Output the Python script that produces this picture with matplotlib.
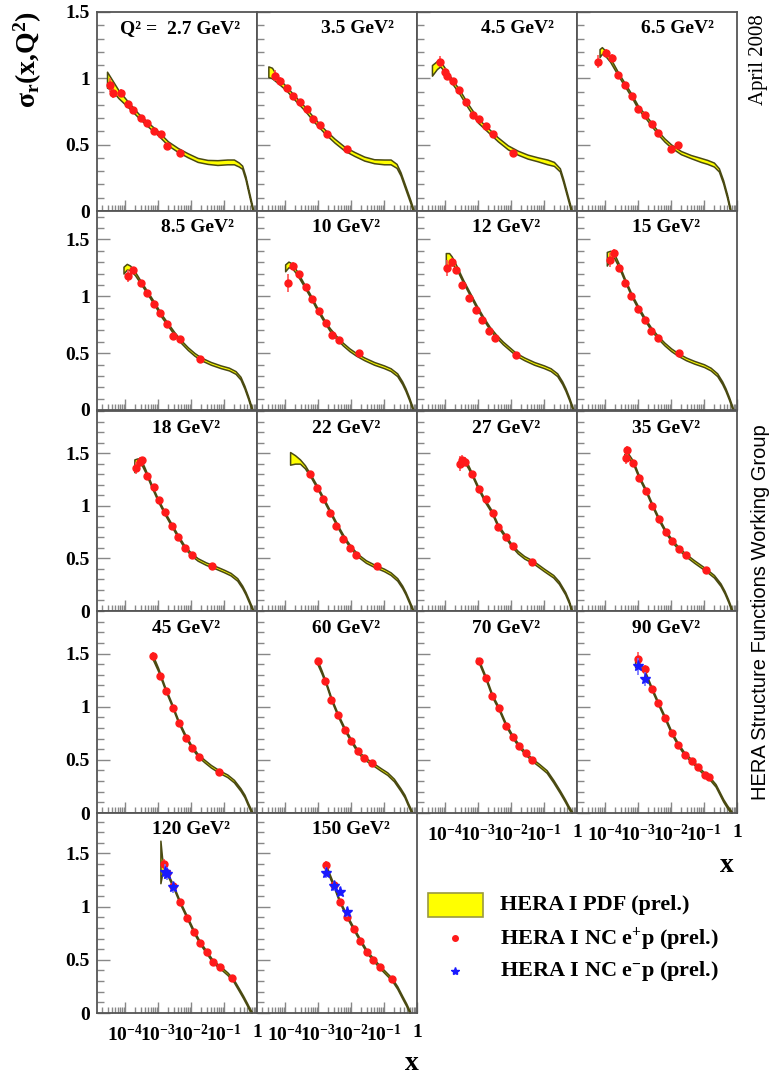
import matplotlib.pyplot as plt
from matplotlib.patches import Rectangle
from matplotlib.ticker import MultipleLocator, LogLocator, NullFormatter
import numpy as np

plt.rcParams['font.family'] = 'Liberation Serif'
plt.rcParams['font.weight'] = 'bold'
plt.rcParams['mathtext.fontset'] = 'custom'
plt.rcParams['mathtext.rm'] = 'Liberation Serif:bold'
plt.rcParams['mathtext.it'] = 'Liberation Serif:bold'
plt.rcParams['mathtext.bf'] = 'Liberation Serif:bold'
plt.rcParams['mathtext.default'] = 'rm'

# Q^2 bins (GeV^2)
q2_labels = ['2.7', '3.5', '4.5', '6.5', '8.5', '10', '12', '15', '18',
             '22', '27', '35', '45', '60', '70', '90', '120', '150']

# HERA I PDF band: log10(x), central value, half width
pdf_lgx = [
    [-4.55, -4.4, -4.2, -3.9, -3.6, -3.3, -3.0, -2.7, -2.4, -2.1, -1.8, -1.5, -1.2, -0.9, -0.7, -0.55, -0.45, -0.35, -0.25, -0.12],
    [-4.51, -4.4, -4.2, -3.95, -3.7, -3.4, -3.1, -2.8, -2.5, -2.2, -1.9, -1.6, -1.3, -1.0, -0.8, -0.62, -0.5, -0.4, -0.3, -0.2, -0.11],
    [-4.40, -4.25, -4.15, -4.0, -3.8, -3.57, -3.3, -3.0, -2.7, -2.4, -2.1, -1.8, -1.5, -1.2, -0.9, -0.7, -0.52, -0.42, -0.3, -0.17],
    [-4.17, -4.1, -4.0, -3.85, -3.6, -3.4, -3.2, -3.0, -2.8, -2.6, -2.4, -2.2, -2.0, -1.7, -1.4, -1.1, -0.9, -0.7, -0.55, -0.42, -0.3, -0.2],
    [-4.05, -3.95, -3.85, -3.7, -3.5, -3.3, -3.1, -2.9, -2.7, -2.5, -2.3, -2.1, -1.9, -1.7, -1.4, -1.1, -0.85, -0.65, -0.5, -0.38, -0.27, -0.15],
    [-4.0, -3.9, -3.8, -3.65, -3.45, -3.25, -3.05, -2.85, -2.65, -2.45, -2.25, -2.05, -1.85, -1.6, -1.3, -1.0, -0.8, -0.6, -0.45, -0.35, -0.24, -0.12],
    [-3.98, -3.88, -3.8, -3.65, -3.45, -3.25, -3.05, -2.85, -2.65, -2.45, -2.25, -2.05, -1.85, -1.6, -1.3, -1.0, -0.8, -0.6, -0.45, -0.35, -0.24, -0.12],
    [-3.95, -3.85, -3.75, -3.6, -3.4, -3.2, -3.0, -2.8, -2.6, -2.4, -2.2, -2.0, -1.8, -1.55, -1.3, -1.0, -0.8, -0.6, -0.45, -0.35, -0.24, -0.12],
    [-3.72, -3.62, -3.52, -3.4, -3.2, -3.0, -2.8, -2.6, -2.4, -2.2, -2.0, -1.8, -1.55, -1.3, -1.0, -0.8, -0.6, -0.45, -0.35, -0.24, -0.12],
    [-3.85, -3.7, -3.55, -3.4, -3.2, -3.0, -2.8, -2.6, -2.4, -2.2, -2.0, -1.8, -1.55, -1.3, -1.0, -0.8, -0.6, -0.45, -0.35, -0.24, -0.12],
    [-3.5, -3.4, -3.3, -3.19, -3.0, -2.8, -2.6, -2.4, -2.2, -2.0, -1.8, -1.6, -1.36, -1.22, -1.0, -0.72, -0.55, -0.36, -0.25, -0.16],
    [-3.42, -3.33, -3.15, -2.97, -2.76, -2.58, -2.37, -2.16, -1.98, -1.76, -1.55, -1.3, -0.94, -0.7, -0.5, -0.38, -0.27, -0.15],
    [-3.17, -3.0, -2.8, -2.6, -2.4, -2.2, -2.0, -1.8, -1.6, -1.4, -1.15, -0.9, -0.7, -0.5, -0.38, -0.27, -0.15],
    [-3.05, -2.9, -2.75, -2.6, -2.4, -2.2, -2.0, -1.8, -1.6, -1.36, -1.1, -0.9, -0.7, -0.5, -0.38, -0.27, -0.15],
    [-3.04, -2.97, -2.77, -2.57, -2.37, -2.16, -1.95, -1.76, -1.56, -1.36, -1.15, -0.92, -0.72, -0.52, -0.37, -0.25, -0.15],
    [-3.09, -3.01, -2.79, -2.59, -2.39, -2.18, -1.98, -1.78, -1.58, -1.37, -1.19, -0.97, -0.84, -0.65, -0.42, -0.3, -0.16],
    [-2.93, -2.88, -2.82, -2.74, -2.54, -2.34, -2.11, -1.91, -1.73, -1.53, -1.33, -1.12, -0.9, -0.72, -0.55, -0.42, -0.3, -0.22, -0.16],
    [-2.79, -2.76, -2.53, -2.35, -2.13, -1.92, -1.72, -1.52, -1.32, -1.12, -0.9, -0.77, -0.6, -0.45, -0.33, -0.21],
]
pdf_y = [
    [0.99, 0.95, 0.88, 0.80, 0.72, 0.65, 0.585, 0.51, 0.46, 0.42, 0.385, 0.37, 0.365, 0.37, 0.37, 0.35, 0.33, 0.25, 0.14, 0.0],
    [1.05, 1.04, 0.98, 0.92, 0.85, 0.77, 0.68, 0.60, 0.53, 0.47, 0.43, 0.395, 0.375, 0.37, 0.37, 0.34, 0.28, 0.21, 0.14, 0.07, 0.0],
    [1.06, 1.10, 1.11, 1.06, 0.98, 0.90, 0.79, 0.68, 0.61, 0.54, 0.48, 0.44, 0.41, 0.39, 0.37, 0.355, 0.31, 0.23, 0.12, 0.0],
    [1.19, 1.21, 1.19, 1.14, 1.03, 0.95, 0.87, 0.78, 0.72, 0.655, 0.59, 0.535, 0.49, 0.44, 0.41, 0.385, 0.37, 0.35, 0.31, 0.22, 0.11, 0.0],
    [1.23, 1.26, 1.25, 1.20, 1.11, 1.02, 0.93, 0.83, 0.75, 0.67, 0.60, 0.54, 0.49, 0.45, 0.41, 0.38, 0.36, 0.33, 0.28, 0.20, 0.11, 0.0],
    [1.25, 1.28, 1.27, 1.21, 1.11, 1.01, 0.90, 0.80, 0.71, 0.64, 0.58, 0.53, 0.49, 0.45, 0.41, 0.38, 0.355, 0.31, 0.24, 0.18, 0.10, 0.0],
    [1.30, 1.33, 1.32, 1.25, 1.13, 1.02, 0.91, 0.81, 0.72, 0.65, 0.59, 0.54, 0.49, 0.45, 0.41, 0.38, 0.355, 0.31, 0.24, 0.18, 0.10, 0.0],
    [1.33, 1.36, 1.37, 1.28, 1.14, 1.01, 0.90, 0.80, 0.71, 0.64, 0.58, 0.53, 0.49, 0.45, 0.42, 0.39, 0.36, 0.31, 0.24, 0.18, 0.10, 0.0],
    [1.38, 1.41, 1.42, 1.34, 1.19, 1.05, 0.93, 0.82, 0.71, 0.61, 0.54, 0.49, 0.45, 0.42, 0.38, 0.35, 0.30, 0.23, 0.17, 0.09, 0.0],
    [1.45, 1.44, 1.42, 1.37, 1.27, 1.16, 1.04, 0.92, 0.80, 0.69, 0.60, 0.53, 0.47, 0.43, 0.39, 0.355, 0.30, 0.23, 0.17, 0.09, 0.0],
    [1.43, 1.43, 1.37, 1.30, 1.17, 1.05, 0.95, 0.81, 0.72, 0.63, 0.56, 0.51, 0.47, 0.44, 0.39, 0.33, 0.27, 0.17, 0.09, 0.0],
    [1.46, 1.49, 1.41, 1.27, 1.14, 1.01, 0.87, 0.75, 0.67, 0.59, 0.53, 0.47, 0.39, 0.33, 0.25, 0.18, 0.10, 0.0],
    [1.47, 1.35, 1.18, 1.03, 0.87, 0.74, 0.63, 0.545, 0.49, 0.44, 0.39, 0.35, 0.30, 0.22, 0.16, 0.08, 0.0],
    [1.44, 1.33, 1.21, 1.07, 0.92, 0.79, 0.68, 0.58, 0.515, 0.465, 0.41, 0.37, 0.31, 0.22, 0.16, 0.08, 0.0],
    [1.44, 1.42, 1.27, 1.10, 0.98, 0.83, 0.715, 0.63, 0.56, 0.50, 0.45, 0.39, 0.30, 0.20, 0.12, 0.05, 0.0],
    [1.40, 1.41, 1.32, 1.17, 1.03, 0.89, 0.75, 0.64, 0.55, 0.49, 0.43, 0.36, 0.33, 0.26, 0.12, 0.06, 0.0],
    [1.42, 1.38, 1.37, 1.32, 1.19, 1.04, 0.89, 0.76, 0.66, 0.57, 0.48, 0.43, 0.37, 0.31, 0.22, 0.15, 0.08, 0.03, 0.0],
    [1.36, 1.37, 1.20, 1.05, 0.91, 0.79, 0.68, 0.575, 0.50, 0.43, 0.36, 0.32, 0.24, 0.15, 0.08, 0.0],
]
pdf_hw = [
    [0.06, 0.04, 0.03, 0.02, 0.015, 0.015, 0.015, 0.015, 0.015, 0.015, 0.015, 0.015, 0.018, 0.018, 0.018, 0.015, 0.012, 0.012, 0.012, 0.012],
    [0.04, 0.04, 0.02, 0.015, 0.015, 0.015, 0.015, 0.015, 0.015, 0.015, 0.015, 0.015, 0.015, 0.018, 0.018, 0.015, 0.012, 0.012, 0.012, 0.012, 0.012],
    [0.04, 0.03, 0.02, 0.015, 0.015, 0.015, 0.015, 0.015, 0.015, 0.015, 0.015, 0.015, 0.015, 0.015, 0.018, 0.015, 0.012, 0.012, 0.012, 0.012],
    [0.03, 0.025, 0.02, 0.015, 0.012, 0.012, 0.012, 0.012, 0.012, 0.012, 0.012, 0.012, 0.012, 0.012, 0.012, 0.015, 0.015, 0.015, 0.012, 0.012, 0.012, 0.012],
    [0.03, 0.025, 0.02, 0.015, 0.012, 0.012, 0.012, 0.012, 0.012, 0.012, 0.012, 0.012, 0.012, 0.012, 0.012, 0.012, 0.012, 0.012, 0.012, 0.012, 0.012, 0.012],
    [0.03, 0.025, 0.02, 0.015, 0.012, 0.012, 0.012, 0.012, 0.012, 0.012, 0.012, 0.012, 0.012, 0.012, 0.012, 0.012, 0.012, 0.012, 0.012, 0.012, 0.012, 0.012],
    [0.08, 0.05, 0.03, 0.015, 0.012, 0.012, 0.012, 0.012, 0.012, 0.012, 0.012, 0.012, 0.012, 0.012, 0.012, 0.012, 0.012, 0.012, 0.012, 0.012, 0.012, 0.012],
    [0.06, 0.04, 0.02, 0.015, 0.012, 0.012, 0.012, 0.012, 0.012, 0.012, 0.012, 0.012, 0.012, 0.012, 0.012, 0.012, 0.012, 0.012, 0.012, 0.012, 0.012, 0.012],
    [0.06, 0.04, 0.02, 0.015, 0.012, 0.012, 0.012, 0.012, 0.012, 0.012, 0.012, 0.012, 0.012, 0.012, 0.012, 0.012, 0.012, 0.012, 0.012, 0.012, 0.012],
    [0.06, 0.04, 0.02, 0.015, 0.012, 0.012, 0.012, 0.012, 0.012, 0.012, 0.012, 0.012, 0.012, 0.012, 0.012, 0.012, 0.012, 0.012, 0.012, 0.012, 0.012],
    [0.03, 0.025, 0.015, 0.012, 0.012, 0.012, 0.012, 0.012, 0.012, 0.012, 0.012, 0.012, 0.012, 0.012, 0.012, 0.012, 0.012, 0.012, 0.012, 0.012],
    [0.03, 0.02, 0.015, 0.012, 0.012, 0.012, 0.012, 0.012, 0.012, 0.012, 0.012, 0.012, 0.012, 0.012, 0.012, 0.012, 0.012, 0.012],
    [0.02, 0.015, 0.012, 0.012, 0.012, 0.012, 0.012, 0.012, 0.012, 0.012, 0.012, 0.012, 0.012, 0.012, 0.012, 0.012, 0.012],
    [0.02, 0.015, 0.012, 0.012, 0.012, 0.012, 0.012, 0.012, 0.012, 0.012, 0.012, 0.012, 0.012, 0.012, 0.012, 0.012, 0.012],
    [0.02, 0.015, 0.012, 0.012, 0.012, 0.012, 0.012, 0.012, 0.012, 0.012, 0.012, 0.012, 0.012, 0.012, 0.012, 0.012, 0.012],
    [0.03, 0.02, 0.012, 0.012, 0.012, 0.012, 0.012, 0.012, 0.012, 0.012, 0.012, 0.012, 0.012, 0.012, 0.012, 0.012, 0.012],
    [0.20, 0.08, 0.02, 0.012, 0.012, 0.012, 0.012, 0.012, 0.012, 0.012, 0.012, 0.012, 0.012, 0.012, 0.012, 0.012, 0.012, 0.012, 0.012],
    [0.03, 0.02, 0.012, 0.012, 0.012, 0.012, 0.012, 0.012, 0.012, 0.012, 0.012, 0.012, 0.012, 0.012, 0.012, 0.012],
]

# HERA I NC e+p: log10(x), reduced cross section, error
ep_lgx = [
    [-4.46, -4.36, -4.13, -3.92, -3.75, -3.53, -3.35, -3.12, -2.91, -2.72, -2.33],
    [-4.30, -4.15, -3.95, -3.75, -3.55, -3.34, -3.14, -2.94, -2.74, -2.13],
    [-4.15, -3.99, -3.95, -3.77, -3.57, -3.37, -3.16, -2.96, -2.76, -2.56, -1.93],
    [-4.22, -3.97, -3.80, -3.60, -3.40, -3.19, -2.99, -2.79, -2.59, -2.39, -1.99, -1.79],
    [-3.91, -3.76, -3.52, -3.33, -3.12, -2.94, -2.73, -2.55, -2.33, -1.73],
    [-3.91, -3.76, -3.58, -3.37, -3.18, -2.97, -2.76, -2.58, -2.37, -1.76],
    [-3.94, -3.79, -3.67, -3.48, -3.27, -3.06, -2.88, -2.67, -2.49, -1.85],
    [-3.85, -3.73, -3.58, -3.40, -3.21, -3.00, -2.80, -2.61, -2.40, -1.76],
    [-3.67, -3.55, -3.50, -3.34, -3.12, -2.97, -2.79, -2.58, -2.40, -2.18, -1.97, -1.36],
    [-3.24, -3.03, -2.85, -2.64, -2.45, -2.24, -2.03, -1.85, -1.21],
    [-3.55, -3.50, -3.40, -3.19, -2.97, -2.76, -2.56, -2.39, -2.16, -1.95, -1.36],
    [-3.38, -3.33, -3.15, -2.97, -2.76, -2.58, -2.37, -2.16, -1.98, -1.76, -1.55, -0.94],
    [-3.15, -2.94, -2.76, -2.55, -2.37, -2.15, -1.97, -1.76, -1.15],
    [-3.00, -2.79, -2.61, -2.39, -2.18, -2.00, -1.79, -1.61, -1.36],
    [-2.97, -2.77, -2.57, -2.37, -2.16, -1.95, -1.76, -1.56, -1.36],
    [-3.01, -2.79, -2.59, -2.39, -2.18, -1.98, -1.78, -1.58, -1.37, -1.19, -0.97, -0.84],
    [-2.82, -2.74, -2.54, -2.34, -2.11, -1.91, -1.73, -1.53, -1.33, -1.12, -0.77],
    [-2.76, -2.53, -2.35, -2.13, -1.92, -1.72, -1.52, -1.32, -1.12, -0.77],
]
ep_y = [
    [0.95, 0.89, 0.89, 0.81, 0.76, 0.70, 0.66, 0.60, 0.58, 0.49, 0.44],
    [1.02, 0.98, 0.93, 0.87, 0.82, 0.77, 0.69, 0.65, 0.58, 0.47],
    [1.125, 1.05, 1.02, 0.98, 0.91, 0.82, 0.72, 0.69, 0.64, 0.58, 0.435],
    [1.125, 1.19, 1.15, 1.025, 0.95, 0.87, 0.77, 0.72, 0.655, 0.585, 0.47, 0.50],
    [1.18, 1.23, 1.12, 1.03, 0.93, 0.85, 0.76, 0.65, 0.62, 0.45],
    [1.12, 1.27, 1.20, 1.08, 0.98, 0.87, 0.765, 0.66, 0.615, 0.50],
    [1.25, 1.30, 1.23, 1.10, 0.985, 0.88, 0.79, 0.695, 0.63, 0.48],
    [1.32, 1.38, 1.25, 1.12, 1.00, 0.89, 0.79, 0.695, 0.63, 0.50],
    [1.36, 1.42, 1.43, 1.28, 1.175, 1.05, 0.94, 0.81, 0.70, 0.60, 0.53, 0.43],
    [1.30, 1.17, 1.06, 0.93, 0.81, 0.68, 0.60, 0.53, 0.43],
    [1.40, 1.43, 1.42, 1.30, 1.155, 1.06, 0.93, 0.795, 0.705, 0.62, 0.47],
    [1.45, 1.53, 1.41, 1.26, 1.14, 1.00, 0.87, 0.75, 0.665, 0.59, 0.53, 0.39],
    [1.48, 1.29, 1.15, 0.99, 0.85, 0.71, 0.61, 0.525, 0.39],
    [1.43, 1.24, 1.06, 0.92, 0.78, 0.675, 0.58, 0.515, 0.47],
    [1.43, 1.27, 1.10, 0.99, 0.82, 0.715, 0.63, 0.56, 0.50],
    [1.45, 1.35, 1.17, 1.03, 0.89, 0.75, 0.64, 0.55, 0.49, 0.43, 0.356, 0.34],
    [1.40, 1.32, 1.19, 1.04, 0.89, 0.76, 0.66, 0.57, 0.475, 0.43, 0.325],
    [1.39, 1.20, 1.04, 0.90, 0.79, 0.68, 0.575, 0.50, 0.43, 0.32],
]
ep_err = [
    [0.05, 0.04, 0.03, 0.02, 0.02, 0.02, 0.02, 0.02, 0.02, 0.02, 0.02],
    [0.04, 0.03, 0.02, 0.02, 0.02, 0.02, 0.02, 0.02, 0.02, 0.02],
    [0.04, 0.03, 0.02, 0.02, 0.02, 0.02, 0.02, 0.02, 0.02, 0.02, 0.02],
    [0.05, 0.03, 0.03, 0.02, 0.02, 0.02, 0.02, 0.02, 0.02, 0.02, 0.02, 0.02],
    [0.05, 0.03, 0.02, 0.02, 0.02, 0.02, 0.02, 0.02, 0.02, 0.02],
    [0.08, 0.03, 0.02, 0.02, 0.02, 0.02, 0.02, 0.02, 0.02, 0.02],
    [0.07, 0.04, 0.03, 0.02, 0.02, 0.02, 0.02, 0.02, 0.02, 0.02],
    [0.06, 0.04, 0.03, 0.02, 0.02, 0.02, 0.02, 0.02, 0.02, 0.02],
    [0.06, 0.04, 0.03, 0.02, 0.02, 0.02, 0.02, 0.02, 0.02, 0.02, 0.02, 0.02],
    [0.03, 0.02, 0.02, 0.02, 0.02, 0.02, 0.02, 0.02, 0.02],
    [0.07, 0.05, 0.04, 0.02, 0.02, 0.02, 0.02, 0.02, 0.02, 0.02, 0.02],
    [0.05, 0.04, 0.02, 0.02, 0.02, 0.02, 0.02, 0.02, 0.02, 0.02, 0.02, 0.02],
    [0.03, 0.02, 0.02, 0.02, 0.02, 0.02, 0.02, 0.02, 0.02],
    [0.03, 0.02, 0.02, 0.02, 0.02, 0.02, 0.02, 0.02, 0.02],
    [0.03, 0.02, 0.02, 0.02, 0.02, 0.02, 0.02, 0.02, 0.02],
    [0.06, 0.04, 0.02, 0.02, 0.02, 0.02, 0.02, 0.02, 0.02, 0.02, 0.02, 0.02],
    [0.05, 0.04, 0.03, 0.02, 0.02, 0.02, 0.02, 0.02, 0.02, 0.02, 0.02],
    [0.04, 0.03, 0.02, 0.02, 0.02, 0.02, 0.02, 0.02, 0.02, 0.02],
]

# HERA I NC e-p, only in the highest Q^2 bins (panel index -> points)
em_panels = [15, 16, 17]
em_lgx = [[-2.99, -2.79], [-2.79, -2.72, -2.54], [-2.76, -2.53, -2.33, -2.13]]
em_y = [[1.38, 1.26], [1.33, 1.31, 1.18], [1.32, 1.19, 1.14, 0.95]]
em_err = [[0.08, 0.07], [0.07, 0.06, 0.05], [0.05, 0.04, 0.04, 0.05]]

# figure layout in pixels
W, H = 771, 1079
row_top = [12, 211, 411, 611, 813]
row_bot = [211, 410, 611, 813, 1013]
row_ymax = [1.5, 1.75, 1.9, 1.9, 1.88]
col_left = [97, 257, 417, 577]
panel_w = 160


def px_box(left, top, right, bottom):
    return [left / W, 1 - bottom / H, (right - left) / W, (bottom - top) / H]


fig = plt.figure(figsize=(W / 100, H / 100), dpi=100)

for i, q2 in enumerate(q2_labels):
    r, c = divmod(i, 4)
    ax = fig.add_axes(px_box(col_left[c], row_top[r], col_left[c] + panel_w, row_bot[r]))
    ax.set_xscale('log')
    ax.set_xlim(1.4e-5, 1.0)
    ax.set_ylim(0, row_ymax[r])

    x = 10 ** np.array(pdf_lgx[i])
    y = np.array(pdf_y[i])
    hw = np.array(pdf_hw[i])
    ax.fill_between(x, y - hw, y + hw, facecolor='#ffff00', edgecolor='#4a4a12',
                    linewidth=1.1, zorder=2)

    ax.errorbar(10 ** np.array(ep_lgx[i]), ep_y[i], yerr=ep_err[i], fmt='o', ms=5,
                color='#ff1a1a', ecolor='#ff5050', elinewidth=1.2, capsize=0, zorder=4)
    if i in em_panels:
        k = em_panels.index(i)
        ax.errorbar(10 ** np.array(em_lgx[k]), em_y[k], yerr=em_err[k], fmt='*', ms=8,
                    color='#1a1aff', ecolor='#7070ff', elinewidth=1.2, capsize=0, zorder=5)

    # panel label
    if i == 0:
        ax.text(0.145, 0.915, 'Q² =  2.7 GeV²', transform=ax.transAxes, fontsize=14, va='center')
    else:
        lx = 0.40 if '.' in q2 else 0.345
        ax.text(lx, 0.915, q2 + ' GeV²', transform=ax.transAxes, fontsize=14, va='center')

    # axes frame and ticks
    for sp in ax.spines.values():
        sp.set_color('#555555')
        sp.set_linewidth(1.3)
    ax.yaxis.set_minor_locator(MultipleLocator(0.1))
    ax.xaxis.set_minor_locator(LogLocator(base=10, subs=np.arange(2, 10), numticks=10))
    ax.xaxis.set_minor_formatter(NullFormatter())
    ax.tick_params(which='both', direction='in', top=False, right=False, color='#888888',
                   width=1.0, labelsize=14)
    ax.tick_params(axis='y', which='major', length=9, pad=5)
    ax.tick_params(axis='y', which='minor', length=5)
    ax.tick_params(axis='x', which='major', length=8, pad=8)
    ax.tick_params(axis='x', which='minor', length=4)

    ax.set_yticks([0, 0.5, 1, 1.5])
    if c == 0:
        ax.set_yticklabels(['0', '0.5', '1', '1.5'])
    else:
        ax.set_yticklabels([])

    bottom_panel = r == 4 or (r == 3 and c >= 2)
    ax.set_xticks([1e-4, 1e-3, 1e-2, 1e-1, 1])
    if bottom_panel:
        ax.set_xticklabels([r'$10^{-4}$', r'$10^{-3}$', r'$10^{-2}$', r'$10^{-1}$', '1'])
    else:
        ax.set_xticklabels([])

# axis titles
fig.text(28 / W, 1 - 60 / H, r'$\sigma_r(x{,}Q^2)$', rotation=90, fontsize=20,
         ha='center', va='center')
fig.text(727 / W, 1 - 865 / H, 'x', fontsize=20, ha='center', va='center')
fig.text(412 / W, 1 - 1064 / H, 'x', fontsize=20, ha='center', va='center')

# side notes
fig.text(758 / W, 1 - 60 / H, 'April 2008', rotation=90, fontsize=15,
         fontweight='normal', ha='center', va='center')
fig.text(760 / W, 1 - 612 / H, 'HERA Structure Functions Working Group', rotation=90,
         family='Liberation Sans', fontweight='normal', fontsize=14.5,
         ha='center', va='center')

# legend
leg = fig.add_axes(px_box(417, 880, 737, 1000))
leg.axis('off')
leg.set_xlim(417, 737)
leg.set_ylim(1000, 880)
leg.add_patch(Rectangle((428, 893), 55, 24, facecolor='#ffff00', edgecolor='#9a9a40', lw=1.2))
leg.plot([455], [938], 'o', color='#ff1a1a', ms=4)
leg.plot([455], [971], '*', color='#1a1aff', ms=6)
leg.text(500, 905, 'HERA I PDF (prel.)', fontsize=16, va='center')
leg.text(500, 939, r'HERA I NC e$^{+}$p (prel.)', fontsize=16, va='center')
leg.text(500, 971, r'HERA I NC e$^{-}$p (prel.)', fontsize=16, va='center')

fig.savefig('out.png', dpi=100)
